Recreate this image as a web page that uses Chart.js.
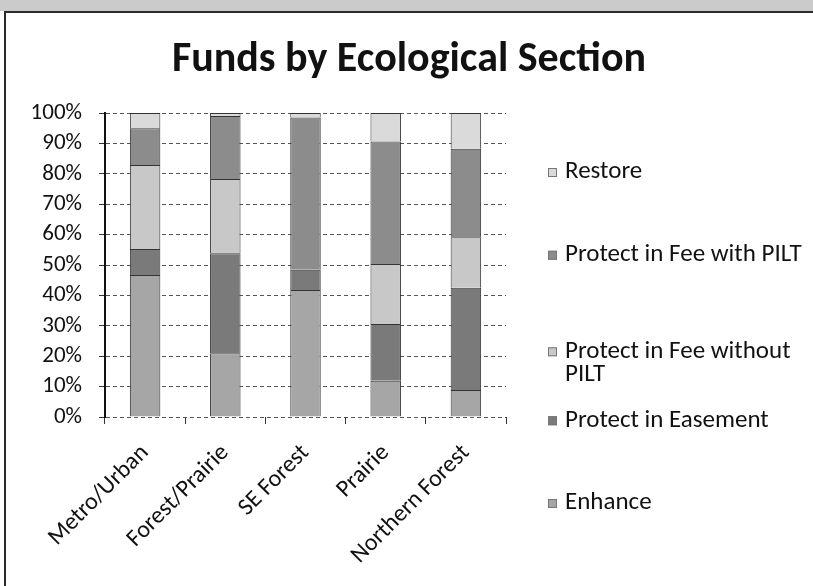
<!DOCTYPE html>
<html>
<head>
<meta charset="utf-8">
<script src="https://cdn.jsdelivr.net/npm/chart.js@4"></script>
<style>
  html, body { margin: 0; padding: 0; background: #fff; }
  #wrap { position: relative; width: 813px; height: 586px; overflow: hidden; }
  #scan-edge { position: absolute; left: 0; top: 0; width: 813px; height: 11px; background: #cbcbcb; }
  #frame { position: absolute; left: 4px; top: 11px; width: 830px; height: 600px;
           border-top: 2px solid #2a2a2a; border-left: 2px solid #2a2a2a; }
  #funds-chart { position: absolute; left: 0; top: 0; }
</style>
</head>
<body>
<div id="wrap">
  <div id="scan-edge"></div>
  <div id="frame"></div>
  <canvas id="funds-chart" width="813" height="586"></canvas>
</div>
<script>
// categorias e parcelas (% do total de cada seção)
const sections = ["Metro/Urban", "Forest/Prairie", "SE Forest", "Prairie", "Northern Forest"];
const enhance = [46.7, 21.0, 41.8, 11.9, 8.9];
const protectEasement = [8.6, 32.9, 6.6, 18.7, 33.6];
const protectFeeWithoutPilt = [27.6, 24.4, 0, 19.7, 16.6];
const protectFeeWithPilt = [12.1, 20.7, 50.1, 40.3, 29.1];
const restore = [5.0, 1.0, 1.5, 9.4, 11.8];
const yTicks = [0, 10, 20, 30, 40, 50, 60, 70, 80, 90, 100];

const chartTitle = "Funds by Ecological Section";
const FONT = "Carlito, Lato, 'Open Sans', sans-serif";

// título centrado na página inteira (o título padrão fica preso à área sem a legenda)
const pageTitle = {
    id: "pageTitle",
    afterDraw(chart) {
        const ctx = chart.ctx;
        ctx.save();
        ctx.font = "bold 42px " + FONT;
        ctx.fillStyle = "#111";
        ctx.textAlign = "center";
        ctx.textBaseline = "alphabetic";
        ctx.fillText(chartTitle, 409, 71);
        ctx.restore();
    },
};

// legenda desenhada à direita, como no original (ordem inversa da pilha)
const sideLegend = {
    id: "sideLegend",
    afterDraw(chart) {
        const ctx = chart.ctx;
        const items = chart.data.datasets.slice().reverse();
        const x = 548, textX = 565, maxW = 244, lineH = 23;
        const firstY = 172, lastY = 503;
        ctx.save();
        ctx.font = "25px " + FONT;
        ctx.textBaseline = "middle";

        const step = (lastY - firstY) / (items.length - 1);
        items.forEach((ds, i) => {
            const words = ds.label.split(" ");
            const lines = [];
            let cur = "";
            words.forEach((w) => {
                const test = cur ? cur + " " + w : w;
                if (cur && ctx.measureText(test).width > maxW) {
                    lines.push(cur);
                    cur = w;
                } else {
                    cur = test;
                }
            });
            lines.push(cur);

            const y = firstY + i * step + (lines.length - 1) * lineH * 0.6;
            ctx.fillStyle = ds.backgroundColor;
            ctx.fillRect(x, y - 4, 9, 9);
            ctx.strokeStyle = "#777";
            ctx.lineWidth = 1;
            ctx.strokeRect(x + 0.5, y - 3.5, 8, 8);
            ctx.fillStyle = "#111";
            lines.forEach((line, j) => {
                ctx.fillText(line, textX, y + j * lineH);
            });
        });
        ctx.restore();
    },
};

const ctx = document.getElementById("funds-chart").getContext("2d");
new Chart(ctx, {
    type: "bar",
    data: {
        labels: sections,
        datasets: [
            { label: "Enhance", data: enhance, backgroundColor: "#a6a6a6" },
            { label: "Protect in Easement", data: protectEasement, backgroundColor: "#7a7a7a" },
            { label: "Protect in Fee without PILT", data: protectFeeWithoutPilt, backgroundColor: "#c8c8c8" },
            { label: "Protect in Fee with PILT", data: protectFeeWithPilt, backgroundColor: "#8c8c8c" },
            { label: "Restore", data: restore, backgroundColor: "#dadada" },
        ],
    },
    options: {
        responsive: false,
        animation: false,
        devicePixelRatio: 1,
        datasets: {
            bar: {
                categoryPercentage: 1.0,
                barPercentage: 0.38,
                borderColor: "#333",
                borderWidth: 1,
            },
        },
        layout: { padding: { left: 0, right: 307, top: 113, bottom: 0 } },
        scales: {
            x: {
                stacked: true,
                offset: true,
                grid: {
                    offset: true,
                    drawOnChartArea: false,
                    drawTicks: true,
                    tickLength: 7,
                    color: "#333",
                },
                border: { display: false },
                ticks: {
                    autoSkip: false,
                    minRotation: 45,
                    maxRotation: 45,
                    padding: 15,
                    color: "#111",
                    font: { family: FONT, size: 24 },
                },
                afterFit(scale) { scale.height = 586 - 417; },
            },
            y: {
                stacked: true,
                min: 0,
                max: 100,
                afterBuildTicks(scale) { scale.ticks = yTicks.map((v) => ({ value: v })); },
                grid: {
                    color: "#555",
                    lineWidth: 1,
                    tickLength: 6,
                    drawTicks: true,
                    tickColor: "#333",
                },
                border: { display: true, color: "#111", width: 2, dash: [4, 3] },
                ticks: {
                    autoSkip: false,
                    padding: 17,
                    color: "#111",
                    font: { family: FONT, size: 23 },
                    callback: (v) => v + "%",
                },
                afterFit(scale) { scale.width = 105; },
            },
        },
        plugins: {
            legend: { display: false },
            tooltip: { enabled: false },
            title: { display: false },
        },
    },
    plugins: [pageTitle, sideLegend],
});
</script>
</body>
</html>
